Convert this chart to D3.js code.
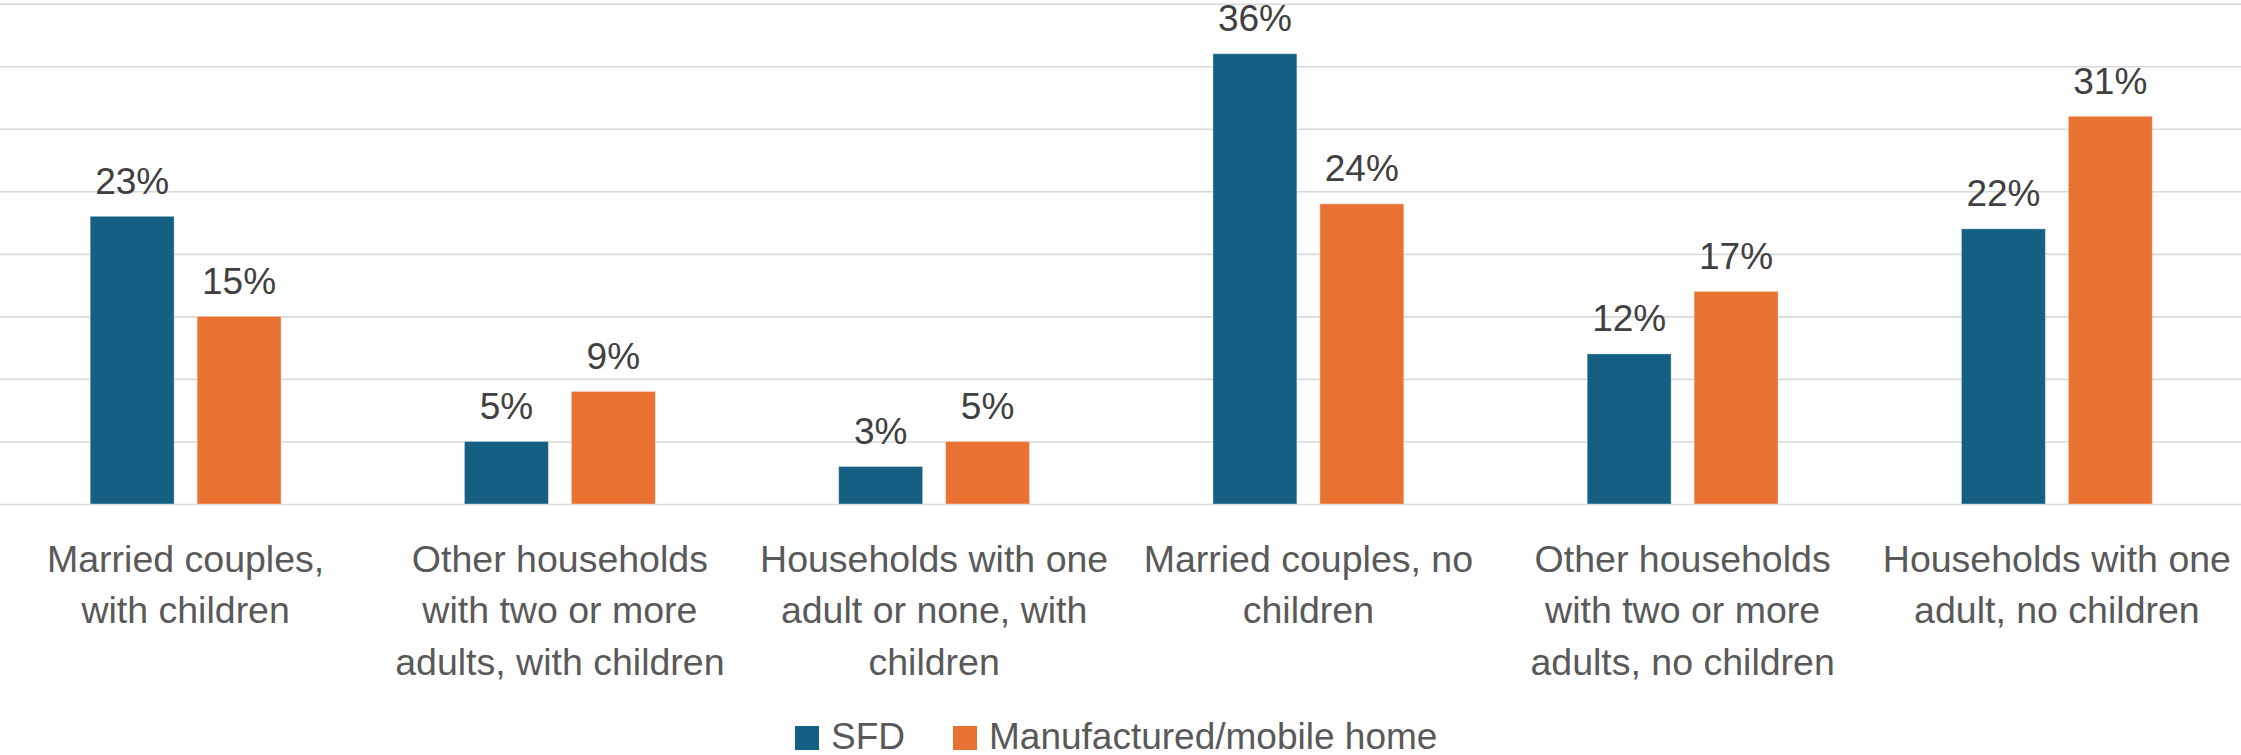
<!DOCTYPE html>
<html>
<head>
<meta charset="utf-8">
<script src="https://cdn.jsdelivr.net/npm/d3@7"></script>
<style>
  html, body { margin: 0; padding: 0; background: #ffffff; }
  svg { display: block; }
</style>
</head>
<body>
<svg id="chart" width="2241" height="755"></svg>
<script>
// Household composition by housing type (share of households)
const categories = [
  "Married couples, with children",
  "Other households with two or more adults, with children",
  "Households with one adult or none, with children",
  "Married couples, no children",
  "Other households with two or more adults, no children",
  "Households with one adult, no children"
];
const categoryLines = [
  ["Married couples,", "with children"],
  ["Other households", "with two or more", "adults, with children"],
  ["Households with one", "adult or none, with", "children"],
  ["Married couples, no", "children"],
  ["Other households", "with two or more", "adults, no children"],
  ["Households with one", "adult, no children"]
];
const seriesNames = ["SFD", "Manufactured/mobile home"];
const sfdValues = [23, 5, 3, 36, 12, 22];
const mobileValues = [15, 9, 5, 24, 17, 31];
const yTicks = [0, 5, 10, 15, 20, 25, 30, 35, 40];
const colors = ["#156082", "#E97132"];

const rows = categories.map((c, i) => ({
  category: c,
  values: [
    { series: seriesNames[0], value: sfdValues[i] },
    { series: seriesNames[1], value: mobileValues[i] }
  ]
}));

const svg = d3.select("#chart");
const plotLeft = -1.5, plotRight = 2244, plotTop = 3.7, plotBottom = 504;

const x0 = d3.scaleBand().domain(categories).range([plotLeft, plotRight]).padding(0);
const cw = x0.bandwidth();
const x1 = d3.scaleBand().domain(seriesNames)
  .range([cw * 0.245, cw * 0.755]).paddingInner(0.215).paddingOuter(0);
const y = d3.scaleLinear().domain([0, 40]).range([plotBottom, plotTop]);
const color = d3.scaleOrdinal().domain(seriesNames).range(colors);

// Horizontal gridlines
const grid = d3.axisLeft(y).tickValues(yTicks).tickSize(-2241).tickFormat("");
svg.append("g")
  .call(grid)
  .call(g => g.select(".domain").remove())
  .call(g => g.selectAll(".tick line")
    .attr("stroke", "#d9d9d9").attr("stroke-width", 1.6));

// Bars
const groups = svg.append("g").selectAll("g")
  .data(rows).join("g")
  .attr("transform", d => `translate(${x0(d.category)},0)`);

groups.selectAll("rect")
  .data(d => d.values).join("rect")
  .attr("x", d => x1(d.series))
  .attr("y", d => y(d.value))
  .attr("width", x1.bandwidth())
  .attr("height", d => y(0) - y(d.value))
  .attr("fill", d => color(d.series))
  .attr("stroke", "rgba(255,255,255,0.35)")
  .attr("stroke-width", 1);

// Value labels
groups.selectAll("text.value")
  .data(d => d.values).join("text")
  .attr("class", "value")
  .attr("x", d => x1(d.series) + x1.bandwidth() / 2)
  .attr("y", d => y(d.value) - 22.5)
  .attr("text-anchor", "middle")
  .attr("font-family", "'Liberation Sans', Arial, sans-serif")
  .attr("font-size", 37)
  .attr("fill", "#404040")
  .text(d => d.value + "%");

// Category axis labels
const xAxis = d3.axisBottom(x0).tickSize(0).tickFormat("");
const axisG = svg.append("g")
  .attr("transform", `translate(0,${plotBottom})`)
  .call(xAxis)
  .call(g => g.select(".domain").remove());

axisG.selectAll(".tick").each(function(d, i) {
  const t = d3.select(this).append("text")
    .attr("text-anchor", "middle")
    .attr("font-family", "'Liberation Sans', Arial, sans-serif")
    .attr("font-size", 37.5)
    .attr("fill", "#595959");
  categoryLines[i].forEach((line, j) => {
    t.append("tspan").attr("x", 0).attr("y", 67.7 + j * 51.7).text(line);
  });
});

// Legend
const legend = svg.append("g").attr("transform", "translate(795,726)");
const legendItems = [
  { name: seriesNames[0], x: 0 },
  { name: seriesNames[1], x: 158 }
];
const li = legend.selectAll("g").data(legendItems).join("g")
  .attr("transform", d => `translate(${d.x},0)`);
li.append("rect")
  .attr("width", 24).attr("height", 24)
  .attr("fill", d => color(d.name));
li.append("text")
  .attr("x", 36).attr("y", 23)
  .attr("font-family", "'Liberation Sans', Arial, sans-serif")
  .attr("font-size", 37)
  .attr("fill", "#595959")
  .text(d => d.name);
</script>
</body>
</html>
